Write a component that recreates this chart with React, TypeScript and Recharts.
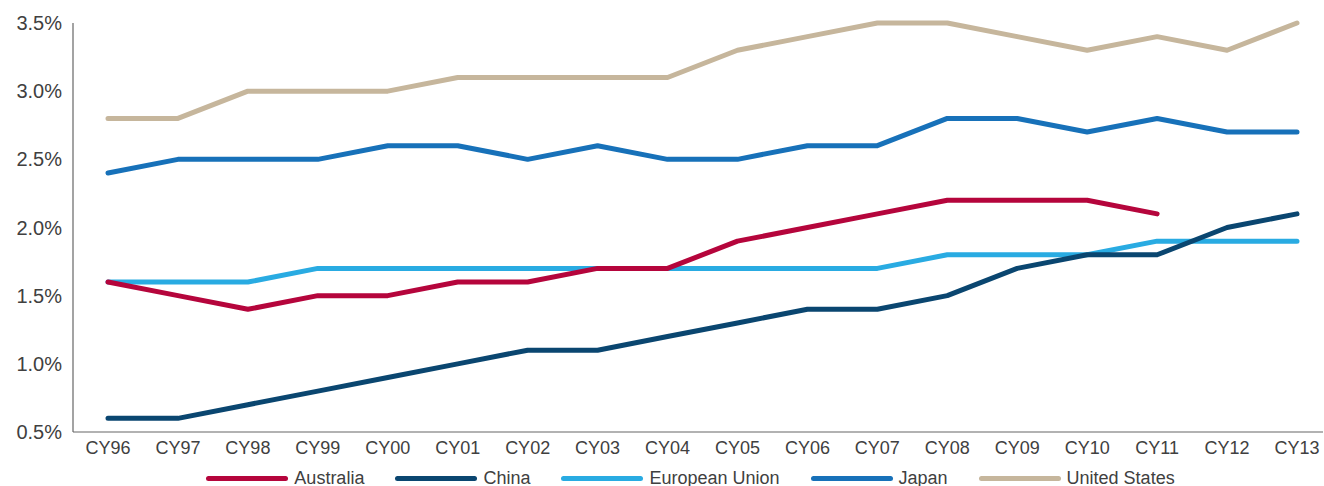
import React, { FC } from "react";
import { Legend, Line, LineChart, XAxis, YAxis } from "recharts";

const years = [
  "CY96", "CY97", "CY98", "CY99", "CY00", "CY01", "CY02", "CY03", "CY04",
  "CY05", "CY06", "CY07", "CY08", "CY09", "CY10", "CY11", "CY12", "CY13",
];

const australia = [1.6, 1.5, 1.4, 1.5, 1.5, 1.6, 1.6, 1.7, 1.7, 1.9, 2.0, 2.1, 2.2, 2.2, 2.2, 2.1, null, null];
const china = [0.6, 0.6, 0.7, 0.8, 0.9, 1.0, 1.1, 1.1, 1.2, 1.3, 1.4, 1.4, 1.5, 1.7, 1.8, 1.8, 2.0, 2.1];
const europeanUnion = [1.6, 1.6, 1.6, 1.7, 1.7, 1.7, 1.7, 1.7, 1.7, 1.7, 1.7, 1.7, 1.8, 1.8, 1.8, 1.9, 1.9, 1.9];
const japan = [2.4, 2.5, 2.5, 2.5, 2.6, 2.6, 2.5, 2.6, 2.5, 2.5, 2.6, 2.6, 2.8, 2.8, 2.7, 2.8, 2.7, 2.7];
const unitedStates = [2.8, 2.8, 3.0, 3.0, 3.0, 3.1, 3.1, 3.1, 3.1, 3.3, 3.4, 3.5, 3.5, 3.4, 3.3, 3.4, 3.3, 3.5];

const yTicks = [0.5, 1.0, 1.5, 2.0, 2.5, 3.0, 3.5];

// legend order
const series = [
  { key: "australia", name: "Australia", color: "#b5053c" },
  { key: "china", name: "China", color: "#0a4670" },
  { key: "eu", name: "European Union", color: "#29abe2" },
  { key: "japan", name: "Japan", color: "#1771b9" },
  { key: "us", name: "United States", color: "#c6b69c" },
];

// paint order: Australia and China sit on top of the EU line
const drawOrder = ["us", "japan", "eu", "china", "australia"];

const data = years.map((year, i) => ({
  year,
  australia: australia[i],
  china: china[i],
  eu: europeanUnion[i],
  japan: japan[i],
  us: unitedStates[i],
}));

const FONT = "'Liberation Sans', Arial, Helvetica, sans-serif";
const TEXT = "#404040";

const LegendRow: FC = () => (
  <div
    style={{
      display: "flex",
      justifyContent: "center",
      alignItems: "center",
      gap: 31,
      height: 24,
      position: "relative",
      top: 4,
      fontFamily: FONT,
      fontSize: 18,
      color: TEXT,
      paddingLeft: 58,
    }}
  >
    {series.map((s) => (
      <div key={s.key} style={{ display: "flex", alignItems: "center" }}>
        <div
          style={{
            width: 82,
            height: 5,
            borderRadius: 3,
            background: s.color,
            marginRight: 6,
          }}
        />
        <span>{s.name}</span>
      </div>
    ))}
  </div>
);

const App: FC = () => {
  return (
    <div style={{ position: "absolute", left: 0, top: 0 }}>
      <LineChart
        width={1324}
        height={486}
        data={data}
        margin={{ top: 23, right: 1, bottom: 0, left: 0 }}
      >
        <XAxis
          dataKey="year"
          padding={{ left: 35, right: 26 }}
          tickLine={false}
          tickSize={0}
          tickMargin={9}
          height={30}
          axisLine={{ stroke: "#666", strokeWidth: 1.2 }}
          tick={{ fill: TEXT, fontSize: 18, fontFamily: FONT }}
          interval={0}
        />
        <YAxis
          domain={[0.5, 3.5]}
          ticks={yTicks}
          tickFormatter={(v: number) => `${v.toFixed(1)}%`}
          width={73}
          tickLine={false}
          tickSize={0}
          tickMargin={11}
          axisLine={{ stroke: "#666", strokeWidth: 1.2 }}
          tick={{ fill: TEXT, fontSize: 20, fontFamily: FONT }}
        />
        <Legend verticalAlign="bottom" content={() => <LegendRow />} />
        {drawOrder.map((k) => {
          const s = series.find((x) => x.key === k)!;
          return (
            <Line
              key={s.key}
              dataKey={s.key}
              name={s.name}
              stroke={s.color}
              strokeWidth={5}
              strokeLinecap="round"
              strokeLinejoin="round"
              dot={false}
              activeDot={false}
              isAnimationActive={false}
            />
          );
        })}
      </LineChart>
    </div>
  );
};

export default App;
